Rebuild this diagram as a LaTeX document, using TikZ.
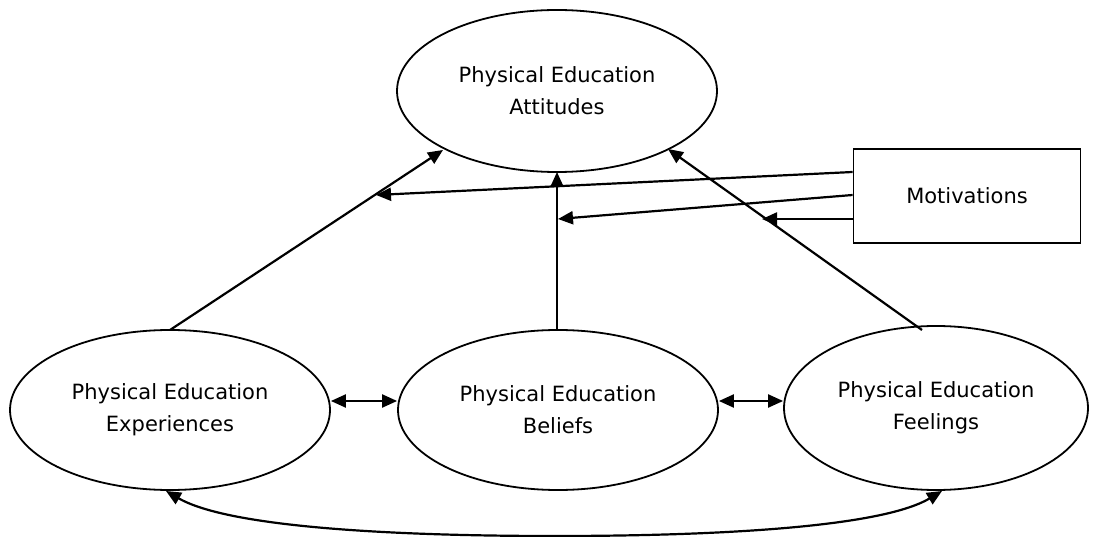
\documentclass[tikz,border=0pt]{standalone}
\usepackage{fontspec}
\setmainfont{DejaVu Sans}
\usetikzlibrary{arrows.meta,shapes.geometric}
\begin{document}
\begin{tikzpicture}[x=1pt,y=-1pt,
  oval/.style={draw,line width=1.8pt,ellipse,minimum width=#1,inner sep=0pt,align=center,font=\fontsize{21}{32}\selectfont},
  box/.style={draw,line width=1.8pt,rectangle,minimum width=227pt,minimum height=94pt,font=\fontsize{21}{32}\selectfont},
  arr/.style={line width=2.2pt,-{Triangle[length=15pt,width=13pt]}},
  darr/.style={line width=2.2pt,{Triangle[length=15pt,width=13pt]}-{Triangle[length=15pt,width=13pt]}}]
\useasboundingbox (0,0) rectangle (1096,537);
\node[oval=320pt,minimum height=162pt] (att) at (557,91) {Physical Education\\Attitudes};
\node[oval=320pt,minimum height=160pt] (exp) at (170,410) {Physical Education\\Experiences};
\node[oval=320pt,minimum height=160pt] (bel) at (558,410) {Physical Education\\Beliefs};
\node[oval=304pt,minimum height=164pt] (fee) at (936,408) {Physical Education\\Feelings};
\node[box] (mot) at (967,196) {Motivations};
\coordinate (e1) at (170,330);
\coordinate (t1) at (443,150);
\coordinate (b1) at (557,330);
\coordinate (t2) at (557,172);
\coordinate (f1) at (922,330);
\coordinate (t3) at (668,149);
\draw[arr] (e1) -- (t1);
\draw[arr] (b1) -- (t2);
\draw[arr] (f1) -- (t3);
\draw[arr] (mot.west |- 0,172) -- (376,195);
\draw[arr] (mot.west |- 0,195) -- (558,219);
\draw[arr] (mot.west |- 0,219) -- (762,219);
\draw[darr] (exp.east |- 0,401) -- (bel.west |- 0,401);
\draw[darr] (bel.east |- 0,401) -- (fee.west |- 0,401);
\draw[darr] (166,491) .. controls (230,528) and (400,536) .. (555,536) .. controls (710,536) and (880,528) .. (942,491);
\end{tikzpicture}
\end{document}
